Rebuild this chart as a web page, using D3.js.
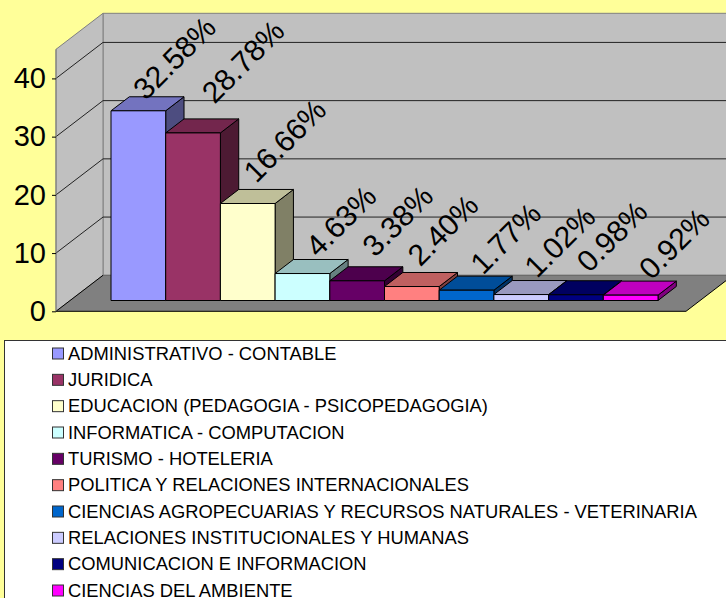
<!DOCTYPE html>
<html><head><meta charset="utf-8">
<script src="https://cdn.jsdelivr.net/npm/d3@7"></script>
<style>html,body{margin:0;padding:0;background:#FFFF99;overflow:hidden}svg{display:block}text{font-family:"Liberation Sans",Arial,sans-serif;fill:#000}</style>
</head><body><svg id="c" width="726" height="598"></svg>
<script>
const categories=["ADMINISTRATIVO - CONTABLE","JURIDICA","EDUCACION (PEDAGOGIA - PSICOPEDAGOGIA)","INFORMATICA - COMPUTACION","TURISMO - HOTELERIA","POLITICA Y RELACIONES INTERNACIONALES","CIENCIAS AGROPECUARIAS Y RECURSOS NATURALES - VETERINARIA","RELACIONES INSTITUCIONALES Y HUMANAS","COMUNICACION E INFORMACION","CIENCIAS DEL AMBIENTE"];
const values=[32.58,28.78,16.66,4.63,3.38,2.40,1.77,1.02,0.98,0.92];
const colors=["#9999FF","#993366","#FFFFCC","#CCFFFF","#660066","#FF8080","#0066CC","#CCCCFF","#000080","#FF00FF"];
const yTicks=[0,10,20,30,40];
const labelNudgeX=[-2,12,-1,0.5,2.5,-7,1,0.5,-2,5.5];
const labelNudgeY=[3,-15.5,-7,3.5,-4,-0.5,4,3,-2.5,4.4];
const svg=d3.select("#c");
const y=d3.scaleLinear().domain([0,45]).range([311.3,49.3]);
const x=d3.scaleBand().domain(categories).range([96.9,643.9]).padding(0);
const DX=47,DY=36,X0=56,X1=686;
const P=(px,v,t)=>[px+DX*t,y(v)-DY*t];
const poly=(pts)=>"M"+pts.map(p=>p.join(",")).join("L")+"Z";
// walls
svg.append("path").attr("d",poly([P(X0,0,1),P(X1,0,1),P(X1,45,1),P(X0,45,1)])).attr("fill","#C0C0C0").attr("stroke","#808080").attr("stroke-width",1);
svg.append("path").attr("d",poly([P(X0,0,0),P(X0,0,1),P(X0,45,1),P(X0,45,0)])).attr("fill","#C0C0C0").attr("stroke","#808080").attr("stroke-width",1);
svg.append("path").attr("d",poly([P(X0,0,0),P(X1,0,0),P(X1,0,1),P(X0,0,1)])).attr("fill","#808080").attr("stroke","none");
// gridlines
yTicks.slice(1).forEach(v=>{
  svg.append("path").attr("d","M"+P(X0,v,0)+"L"+P(X0,v,1)+"L"+P(X1,v,1)).attr("fill","none").attr("stroke","#222").attr("stroke-width",1);
});
svg.append("path").attr("d","M"+P(X0,0,1)+"L"+P(X1,0,1)).attr("stroke","#666").attr("fill","none");
svg.append("path").attr("d","M"+P(X0,0,1)+"L"+P(X0,0,0)+"L"+P(X1,0,0)+"L"+P(X1,0,1)).attr("stroke","#000").attr("fill","none");
svg.append("path").attr("d","M"+P(X0,0,0)+"L"+P(X0,45,0)).attr("stroke","#808080").attr("fill","none");
// axis
const axis=d3.axisLeft(y).tickValues(yTicks).tickSize(4).tickPadding(6).tickFormat(d3.format("d"));
const ag=svg.append("g").attr("transform",`translate(${X0},0)`).call(axis);
ag.select(".domain").remove();
ag.selectAll("line").attr("stroke","#000");
ag.selectAll("text").style("font-size","29px").style("font-family",'"Liberation Sans",Arial,sans-serif').attr("fill","#000");
// bars
const T0=0.3,T1=0.69;
const bars=svg.append("g").selectAll("g").data(categories).join("g").attr("stroke","#000").attr("stroke-width",1).attr("stroke-linejoin","round");
bars.each(function(c,i){
  const g=d3.select(this),l=x(c),r=l+x.bandwidth(),v=values[i],col=d3.color(colors[i]);
  const top=d3.rgb(col.r*.75,col.g*.75,col.b*.75),side=d3.rgb(col.r*.5,col.g*.5,col.b*.5);
  g.append("path").attr("d",poly([P(r,0,T0),P(r,0,T1),P(r,v,T1),P(r,v,T0)])).attr("fill",side);
  g.append("path").attr("d",poly([P(l,v,T0),P(r,v,T0),P(r,v,T1),P(l,v,T1)])).attr("fill",top);
  g.append("path").attr("d",poly([P(l,0,T0),P(r,0,T0),P(r,v,T0),P(l,v,T0)])).attr("fill",colors[i]);
});
// labels
svg.append("g").selectAll("text").data(categories).join("text")
 .text((c,i)=>values[i].toFixed(2)+"%")
 .attr("text-anchor","middle").attr("dy","0.35em")
 .attr("transform",(c,i)=>{const p=P(x(c)+x.bandwidth()/2,values[i],T0);return `translate(${p[0]+38+labelNudgeX[i]},${p[1]-56+labelNudgeY[i]}) rotate(-45)`;})
 .style("font-size","30px");
// legend
const lg=svg.append("g");
lg.append("rect").attr("x",4.5).attr("y",340.5).attr("width",730).attr("height",270).attr("fill","#fff").attr("stroke","#333");
const ly=d3.scalePoint().domain(categories).range([353.5,590.5]);
const row=lg.selectAll("g").data(categories).join("g").attr("transform",c=>`translate(0,${ly(c)})`);
row.append("rect").attr("x",52.5).attr("y",-5.5).attr("width",11).attr("height",11).attr("fill",(c,i)=>colors[i]).attr("stroke","#333");
row.append("text").attr("x",68).attr("y",6).text(c=>c).style("font-size","18.35px");
</script></body></html>
